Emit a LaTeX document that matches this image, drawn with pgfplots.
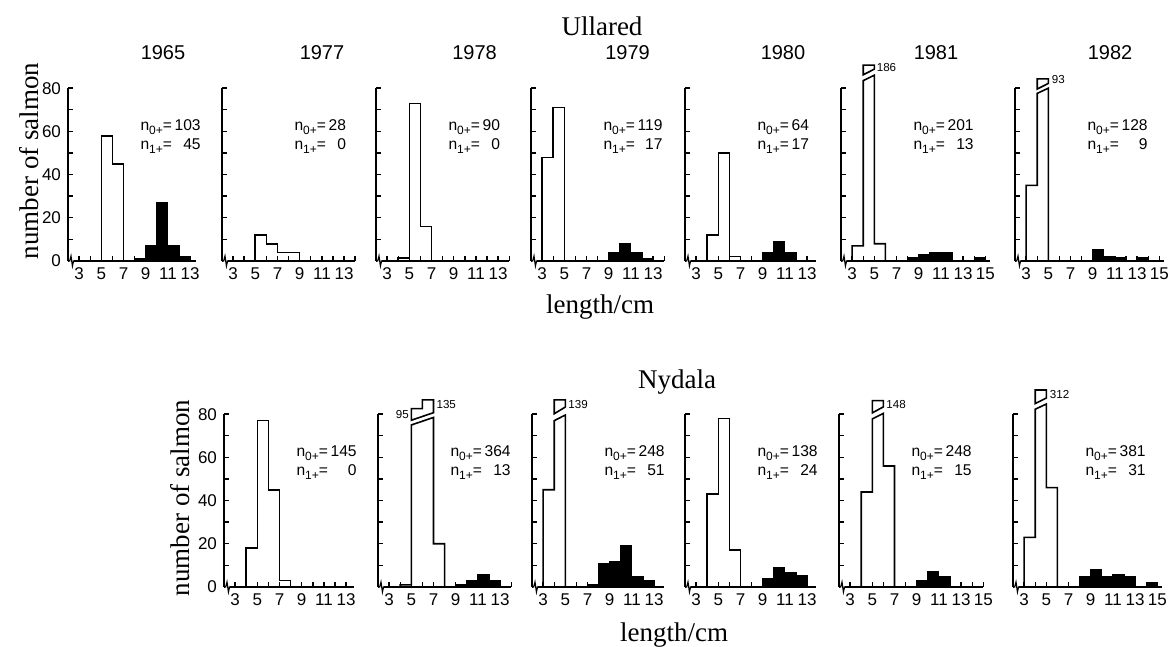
\documentclass[border=0pt]{standalone}
\usepackage{fontspec}
\setmainfont{Liberation Sans}
\newfontfamily\serif{Liberation Serif}
\usepackage{pgfplots}
\pgfplotsset{compat=1.18}
\newcommand\ticks{\fontsize{8.5}{9}\selectfont}
\newcommand\yr{\fontsize{10}{11}\selectfont}
\newcommand\annof{\fontsize{7.8}{9.7}\selectfont}
\newcommand\lbl{\serif\fontsize{13.5}{15}\selectfont}
\newcommand\nn[1]{n\raisebox{-0.45ex}{\fontsize{6}{6}\selectfont #1+}=}
\newcommand\ann[2]{\node[anchor=base west, inner sep=0pt] at (axis cs:8.5,60.5) {\annof\begin{tabular}[t]{@{}l@{\,}r@{}}\nn{0}&#1\\\nn{1}&#2\end{tabular}};}
\newcommand\brk{\fill[white] (axis cs:2.12,-1.3) rectangle (axis cs:2.55,1.3);
  \draw[line width=0.6pt] (axis cs:2.05,0) -- (axis cs:2.15,0) -- (axis cs:2.27,2.3) -- (axis cs:2.4,-2.3) -- (axis cs:2.5,0) -- (axis cs:2.6,0);}
\newcommand\capl[2]{\node[anchor=west, inner sep=0.5pt, font=\fontsize{5.8}{6}\selectfont] at (axis cs:#1) {#2};}
\pgfplotsset{
  panel/.style={x=5.55pt, y=1.08pt, xmin=2, ymin=0, ymax=80,
    axis lines=left, axis line style={-, line width=0.8pt},
    tick align=inside, xtick={3,5,...,15}, minor xtick={2,...,16},
    ytick={0,20,...,80}, minor ytick={10,30,...,70},
    major tick length=2.5pt, minor tick length=2.5pt,
    every tick/.style={black, line width=0.7pt},
    clip=false, anchor=south west,
    tick label style={font=\ticks},
    /pgf/number format/assume math mode=true},
  nolab/.style={yticklabels={}},
  openh/.style={const plot, black, line width=0.8pt, mark=none},
  brokh/.style={sharp plot, black, line width=0.8pt, mark=none},
  fillh/.style={const plot, draw=black, fill=black, line width=0.5pt, mark=none},
}
\begin{document}
\begin{tikzpicture}
\path[use as bounding box] (0,0) rectangle (584.5pt,323.5pt);
% titles
\node[font=\lbl] at (301pt,310.5pt) {Ullared};
\node[font=\lbl] at (338.5pt,132.5pt) {Nydala};
\node[font=\lbl] at (300pt,170pt) {length/cm};
\node[font=\lbl] at (337pt,6pt) {length/cm};
\node[font=\lbl, rotate=90] at (14.5pt,243pt) {number of salmon};
\node[font=\lbl, rotate=90] at (90pt,74.5pt) {number of salmon};
\node[font=\yr] at (81.5pt,297pt) {1965};
\node[font=\yr] at (161pt,297pt) {1977};
\node[font=\yr] at (237.3pt,297pt) {1978};
\node[font=\yr] at (313.8pt,297pt) {1979};
\node[font=\yr] at (391.5pt,297pt) {1980};
\node[font=\yr] at (468pt,297pt) {1981};
\node[font=\yr] at (555pt,297pt) {1982};

% ---------------- Ullared ----------------
\begin{axis}[panel, at={(34pt,193pt)}, xmax=13.5]
\addplot[openh] coordinates {(5,0) (5,58) (6,45) (7,0)};
\addplot[fillh] coordinates {(8,0) (8,1) (9,7) (10,27) (11,7) (12,2) (13,0)};
\brk \ann{103}{45}
\end{axis}

\begin{axis}[panel, nolab, at={(111pt,193pt)}, xmax=14]
\addplot[openh] coordinates {(5,0) (5,12) (6,8) (7,4) (8,4) (9,0)};
\brk \ann{28}{0}
\end{axis}

\begin{axis}[panel, nolab, at={(188pt,193pt)}, xmax=14]
\addplot[openh] coordinates {(4,0) (4,1.5) (5,73) (6,16) (7,0)};
\brk \ann{90}{0}
\end{axis}

\begin{axis}[panel, nolab, at={(265.5pt,193pt)}, xmax=14]
\addplot[openh] coordinates {(3,0) (3,48) (4,71) (5,0)};
\addplot[fillh] coordinates {(9,0) (9,4) (10,8) (11,4) (12,1) (13,0)};
\brk \ann{119}{17}
\end{axis}

\begin{axis}[panel, nolab, at={(342.5pt,193pt)}, xmax=13.8]
\addplot[openh] coordinates {(4,0) (4,12) (5,50) (6,2) (7,0)};
\addplot[fillh] coordinates {(9,0) (9,4) (10,9) (11,4) (12,0)};
\brk \ann{64}{17}
\end{axis}

\begin{axis}[panel, nolab, at={(420.5pt,193pt)}, xmax=15.4]
\addplot[brokh] coordinates {(3,0) (3,7) (4,7) (4,83.5) (5,86) (5,8) (6,8) (6,0)};
\addplot[fillh] coordinates {(8,0) (8,1.6) (9,2.8) (10,4) (11,4) (12,0) (14,0) (14,1.5) (15,0)};
\draw[line width=0.8pt] (axis cs:4,86.2) -- (axis cs:4,90.7) -- (axis cs:5,90.7) -- (axis cs:5,88.8) -- cycle;
\capl{5.1,89.5}{186}
\brk \ann{201}{13}
\end{axis}

\begin{axis}[panel, nolab, at={(507.5pt,193pt)}, xmax=15.4]
\addplot[brokh] coordinates {(3,0) (3,35) (4,35) (4,77.6) (5,80) (5,0)};
\addplot[fillh] coordinates {(9,0) (9,5.5) (10,2.2) (11,1.5) (12,0) (13,0) (13,1.5) (14,0)};
\draw[line width=0.8pt] (axis cs:4,79.6) -- (axis cs:4,84.3) -- (axis cs:5,84.3) -- (axis cs:5,82.2) -- cycle;
\capl{5.2,84}{93}
\brk \ann{128}{9}
\end{axis}

% ---------------- Nydala ----------------
\begin{axis}[panel, at={(112pt,30pt)}, xmax=13.7]
\addplot[openh] coordinates {(4,0) (4,18) (5,77) (6,45) (7,3) (8,0)};
\brk \ann{145}{0}
\end{axis}

\begin{axis}[panel, nolab, at={(189pt,30pt)}, xmax=14]
\addplot[brokh] coordinates {(4,0) (4,1) (5,1) (5,75) (7,78.5) (7,20) (8,20) (8,0)};
\addplot[fillh] coordinates {(9,0) (9,1) (10,3) (11,5.7) (12,3) (13,0)};
\draw[line width=0.8pt] (axis cs:5,77.2) -- (axis cs:5,82.6) -- (axis cs:6,82.6) -- (axis cs:6,86.6) -- (axis cs:7,86.6) -- (axis cs:7,80.7) -- cycle;
\node[anchor=east, inner sep=0.5pt, font=\fontsize{5.8}{6}\selectfont] at (axis cs:4.9,79.8) {95};
\capl{7.15,84.5}{135}
\brk \ann{364}{13}
\end{axis}

\begin{axis}[panel, nolab, at={(266pt,30pt)}, xmax=13.85]
\addplot[brokh] coordinates {(3,0) (3,45) (4,45) (4,77) (5,79.6) (5,0)};
\addplot[fillh] coordinates {(7,0) (7,1) (8,11) (9,12) (10,19) (11,5) (12,3) (13,0)};
\draw[line width=0.8pt] (axis cs:4,80.2) -- (axis cs:4,86.6) -- (axis cs:5,86.6) -- (axis cs:5,83.3) -- cycle;
\capl{5.15,84.5}{139}
\brk \ann{248}{51}
\end{axis}

\begin{axis}[panel, nolab, at={(342.5pt,30pt)}, xmax=13.8]
\addplot[openh] coordinates {(4,0) (4,43) (5,78) (6,17) (7,0)};
\addplot[fillh] coordinates {(9,0) (9,4) (10,9) (11,6.5) (12,5.2) (13,0)};
\brk \ann{138}{24}
\end{axis}

\begin{axis}[panel, nolab, at={(419.5pt,30pt)}, xmax=15]
\addplot[brokh] coordinates {(4,0) (4,44) (5,44) (5,77.8) (6,80.4) (6,56) (7,56) (7,0)};
\addplot[fillh] coordinates {(9,0) (9,3) (10,7) (11,5) (12,0)};
\draw[line width=0.8pt] (axis cs:5,80.6) -- (axis cs:5,86.3) -- (axis cs:6,86.3) -- (axis cs:6,83.4) -- cycle;
\capl{6.15,84.5}{148}
\brk \ann{248}{15}
\end{axis}

\begin{axis}[panel, nolab, at={(506.5pt,30pt)}, xmax=15.4]
\addplot[brokh] coordinates {(3,0) (3,23) (4,23) (4,82.3) (5,84.7) (5,46) (6,46) (6,0)};
\addplot[fillh] coordinates {(8,0) (8,5) (9,8) (10,5) (11,6) (12,5) (13,0) (14,0) (14,2) (15,0)};
\draw[line width=0.8pt] (axis cs:4,84.9) -- (axis cs:4,91.2) -- (axis cs:5,91.2) -- (axis cs:5,87.5) -- cycle;
\capl{5.2,89}{312}
\brk \ann{381}{31}
\end{axis}
\end{tikzpicture}
\end{document}
